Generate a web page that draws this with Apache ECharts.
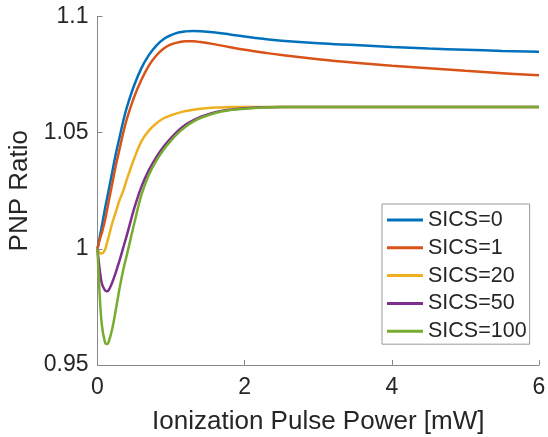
<!DOCTYPE html>
<html>
<head>
<meta charset="utf-8">
<script src="https://cdn.jsdelivr.net/npm/echarts@6/dist/echarts.min.js"></script>
<style>
  html, body { margin: 0; padding: 0; background: #fff; }
  #main { width: 548px; height: 437px; }
</style>
</head>
<body>
<div id="main"></div>
<script>
  // x positions (mW) shared by all curves
  var xs = [0, 0.03, 0.06, 0.1, 0.125, 0.15, 0.2, 0.25, 0.3, 0.35, 0.4, 0.5, 0.6, 0.7, 0.8, 0.9,
            1.0, 1.1, 1.2, 1.3, 1.4, 1.6, 1.8, 2.0, 2.25, 2.5, 3, 3.5, 4, 4.5, 5, 5.5, 6];

  var sics0 = [1.000, 1.005, 1.010, 1.017, 1.021, 1.025, 1.033, 1.041, 1.048, 1.055, 1.061, 1.0705, 1.078, 1.0835, 1.0875, 1.0903,
               1.0920, 1.0931, 1.0936, 1.0938, 1.0937, 1.0931, 1.0923, 1.0914, 1.0904, 1.0896, 1.0885, 1.0877, 1.0869, 1.0862, 1.0857, 1.0852, 1.0848];
  var sics1 = [1.000, 1.004, 1.007, 1.012, 1.016, 1.020, 1.028, 1.036, 1.043, 1.050, 1.056, 1.0655, 1.073, 1.079, 1.0832, 1.0862,
               1.0880, 1.0889, 1.0893, 1.0893, 1.0890, 1.0880, 1.0868, 1.0857, 1.0845, 1.0834, 1.0816, 1.0801, 1.0788, 1.0777, 1.0766, 1.0756, 1.0747];
  var sics20 = [1.000, 0.9982, 0.9980, 0.9995, 1.002, 1.005, 1.011, 1.016, 1.021, 1.025, 1.030, 1.039, 1.0465, 1.051, 1.054, 1.0562,
                1.0575, 1.0585, 1.0593, 1.0599, 1.0603, 1.0608, 1.0610, 1.0611, 1.0611, 1.0611, 1.0611, 1.0611, 1.0611, 1.0611, 1.0611, 1.0611, 1.0611];
  var sics50 = [1.000, 0.991, 0.985, 0.9822, 0.9817, 0.9821, 0.9855, 0.990, 0.995, 1.0005, 1.006, 1.0175, 1.027, 1.034, 1.0395, 1.0440,
                1.0477, 1.0510, 1.0535, 1.0553, 1.0568, 1.0588, 1.0599, 1.0605, 1.0609, 1.0611, 1.0611, 1.0611, 1.0611, 1.0611, 1.0611, 1.0611, 1.0611];
  var sics100 = [1.000, 0.980, 0.967, 0.9600, 0.9590, 0.9598, 0.9655, 0.974, 0.983, 0.991, 0.9975, 1.011, 1.0235, 1.032, 1.038, 1.0428,
                 1.0466, 1.0500, 1.0527, 1.0547, 1.0563, 1.0585, 1.0597, 1.0603, 1.0608, 1.0610, 1.0611, 1.0611, 1.0611, 1.0611, 1.0611, 1.0611, 1.0611];

  var names = ['SICS=0', 'SICS=1', 'SICS=20', 'SICS=50', 'SICS=100'];
  var colors = ['#0072BD', '#D95319', '#EDB120', '#7E2F8E', '#77AC30'];
  var allY = [sics0, sics1, sics20, sics50, sics100];

  var font = '"Liberation Sans", Arial, Helvetica, sans-serif';
  var chart = echarts.init(document.getElementById('main'));

  var series = [];
  for (var i = 0; i < names.length; i++) {
    var pts = [];
    for (var j = 0; j < xs.length; j++) pts.push([xs[j], allY[i][j]]);
    series.push({
      name: names[i],
      type: 'line',
      data: pts,
      smooth: 0.4,
      symbol: 'none',
      lineStyle: { color: colors[i], width: 2.5 },
      itemStyle: { color: colors[i] }
    });
  }

  var option = {
    animation: false,
    grid: { left: 97.5, right: 9, top: 16.5, bottom: 72, outerBoundsMode: 'none' },
    legend: {
      orient: 'vertical',
      left: 382,
      top: 204,
      icon: 'rect',
      itemWidth: 36,
      itemHeight: 3,
      itemGap: 5.8,
      padding: [5, 3, 2, 5],
      borderColor: '#999',
      borderWidth: 1,
      backgroundColor: '#fff',
      textStyle: { fontFamily: font, fontSize: 21.5, color: '#262626', lineHeight: 22 },
      data: names
    },
    xAxis: {
      type: 'value',
      min: 0, max: 6, interval: 2,
      name: 'Ionization Pulse Power [mW]',
      nameLocation: 'middle',
      nameGap: 44,
      nameTextStyle: { fontFamily: font, fontSize: 26, color: '#262626' },
      axisLine: { lineStyle: { color: '#888', width: 1 } },
      axisTick: { inside: true, length: 5, lineStyle: { color: '#888' } },
      axisLabel: { fontFamily: font, fontSize: 23, color: '#262626', margin: 11 },
      splitLine: { show: false }
    },
    yAxis: {
      type: 'value',
      min: 0.95, max: 1.1, interval: 0.05,
      name: 'PNP Ratio',
      nameLocation: 'middle',
      nameGap: 51,
      nameTextStyle: { fontFamily: font, fontSize: 26, color: '#262626' },
      axisLine: { show: true, lineStyle: { color: '#888', width: 1 } },
      axisTick: { show: true, inside: true, length: 5, lineStyle: { color: '#888' } },
      axisLabel: {
        fontFamily: font, fontSize: 23, color: '#262626', margin: 9,
        formatter: function (v) { return String(parseFloat(v.toFixed(2))); }
      },
      splitLine: { show: false }
    },
    series: series
  };
  chart.setOption(option);
</script>
</body>
</html>
